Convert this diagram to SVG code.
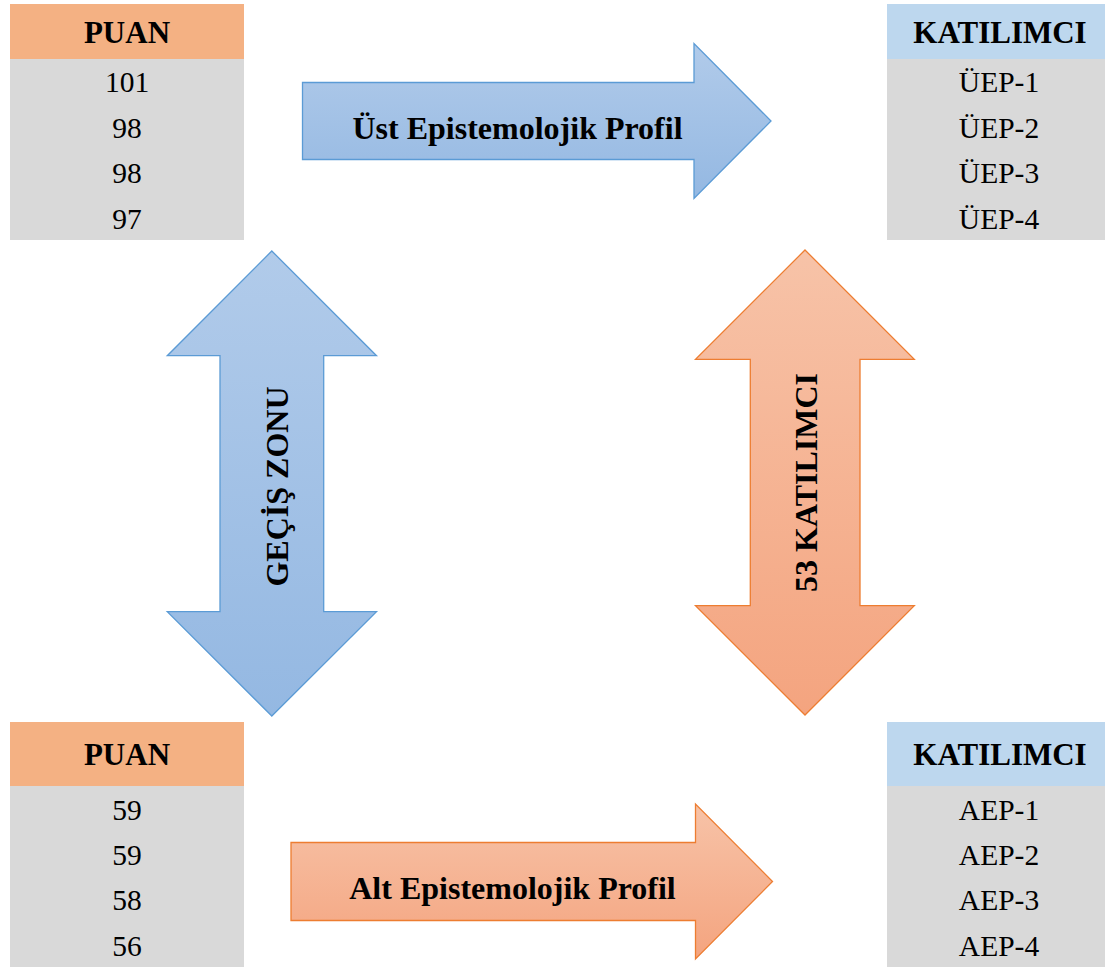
<svg xmlns="http://www.w3.org/2000/svg" width="1105" height="970" viewBox="0 0 1105 970">
  <style>
    .hdr-o { fill: #F4B183; }
    .hdr-b { fill: #BDD7EE; }
    .body { fill: #D9D9D9; }
    .th { font-family: "Liberation Serif", "Times New Roman", serif; font-weight: bold; font-size: 31px; fill: #000; text-anchor: middle; }
    .td { font-family: "Liberation Serif", "Times New Roman", serif; font-size: 29.5px; fill: #000; text-anchor: middle; }
    .lbl { font-family: "Liberation Serif", "Times New Roman", serif; font-weight: bold; font-size: 32px; fill: #000; text-anchor: middle; }
    .arr-b { fill: url(#gBlue); stroke: #5B9BD5; stroke-width: 1.3; }
    .arr-o { fill: url(#gOrange); stroke: #ED7D31; stroke-width: 1.3; }
  </style>
  <defs>
    <linearGradient id="gBlue" x1="0" y1="0" x2="0" y2="1">
      <stop offset="0" stop-color="#B1CBEA"/>
      <stop offset="1" stop-color="#94B8E2"/>
    </linearGradient>
    <linearGradient id="gOrange" x1="0" y1="0" x2="0" y2="1">
      <stop offset="0" stop-color="#F7C3A8"/>
      <stop offset="1" stop-color="#F4A47F"/>
    </linearGradient>
  </defs>
  <rect width="1105" height="970" fill="#FFFFFF"/>

  <!-- Upper score table -->
  <g id="puan-top">
    <rect class="hdr-o" x="10" y="4" width="234" height="55"/>
    <rect class="body" x="10" y="59" width="234" height="181"/>
    <text class="th" x="127" y="43">PUAN</text>
    <text class="td" x="127" y="92">101</text>
    <text class="td" x="127" y="137.5">98</text>
    <text class="td" x="127" y="183">98</text>
    <text class="td" x="127" y="228.5">97</text>
  </g>

  <!-- Upper participant table -->
  <g id="katilimci-top">
    <rect class="hdr-b" x="887" y="4" width="218" height="55"/>
    <rect class="body" x="887" y="59" width="218" height="181"/>
    <text class="th" x="1000" y="43">KATILIMCI</text>
    <text class="td" x="999" y="92">ÜEP-1</text>
    <text class="td" x="999" y="137.5">ÜEP-2</text>
    <text class="td" x="999" y="183">ÜEP-3</text>
    <text class="td" x="999" y="228.5">ÜEP-4</text>
  </g>

  <!-- Lower score table -->
  <g id="puan-bottom">
    <rect class="hdr-o" x="10" y="722" width="234" height="64"/>
    <rect class="body" x="10" y="786" width="234" height="181"/>
    <text class="th" x="127" y="765">PUAN</text>
    <text class="td" x="127" y="820">59</text>
    <text class="td" x="127" y="865">59</text>
    <text class="td" x="127" y="910">58</text>
    <text class="td" x="127" y="955.5">56</text>
  </g>

  <!-- Lower participant table -->
  <g id="katilimci-bottom">
    <rect class="hdr-b" x="887" y="722" width="218" height="64"/>
    <rect class="body" x="887" y="786" width="218" height="181"/>
    <text class="th" x="1000" y="765">KATILIMCI</text>
    <text class="td" x="999" y="820">AEP-1</text>
    <text class="td" x="999" y="865">AEP-2</text>
    <text class="td" x="999" y="910">AEP-3</text>
    <text class="td" x="999" y="955.5">AEP-4</text>
  </g>

  <!-- Arrows -->
  <g id="connectors">
    <g id="ust-profil">
      <path class="arr-b" d="M302.5,82.5 H694 V43.5 L771,121 L694,198.5 V159.5 H302.5 Z"/>
      <text class="lbl" x="517.5" y="139">Üst Epistemolojik Profil</text>
    </g>
    <g id="alt-profil">
      <path class="arr-o" d="M291,842.5 H695.5 V804 L772.5,881.5 L695.5,959 V920.5 H291 Z"/>
      <text class="lbl" x="512.5" y="899">Alt Epistemolojik Profil</text>
    </g>
    <g id="gecis-zonu">
      <path class="arr-b" d="M271.8,251 L376.5,355.7 H323.7 V611.7 H376.5 L271.8,716 L167.3,611.7 H220 V355.7 H167.3 Z"/>
      <text class="lbl" transform="translate(287.5,486.5) rotate(-90)" x="0" y="0">GEÇİŞ ZONU</text>
    </g>
    <g id="katilimci-53">
      <path class="arr-o" d="M805,250 L914.3,359.3 H860 V605.7 H914.3 L805,715 L695.5,605.7 H750.3 V359.3 H695.5 Z"/>
      <text class="lbl" transform="translate(816.7,482.5) rotate(-90)" x="0" y="0">53 KATILIMCI</text>
    </g>
  </g>
</svg>
